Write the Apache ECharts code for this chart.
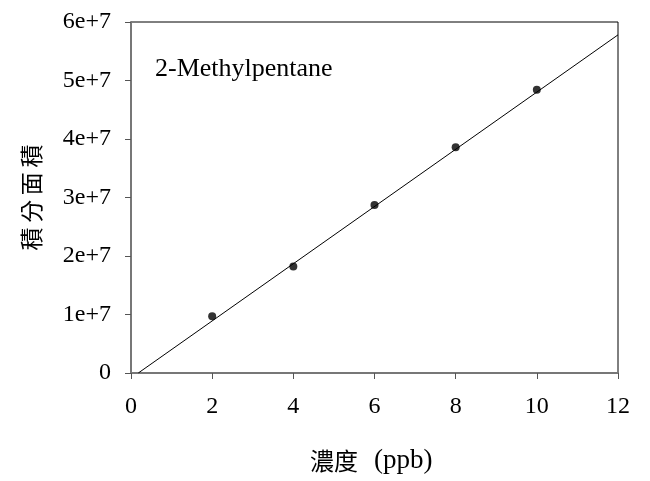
<!DOCTYPE html>
<html><head><meta charset="utf-8">
<script src="https://cdn.jsdelivr.net/npm/echarts@6/dist/echarts.min.js"></script>
<style>html,body{margin:0;padding:0;background:#fff}#c{width:650px;height:481px}</style>
</head><body><div id="c"></div>
<script>
var concentrations = [2, 4, 6, 8, 10];
var areas = [9.7e6, 1.82e7, 2.87e7, 3.86e7, 4.84e7];
var fitLine = [[0.18, 0], [12, 5.78e7]];
var xTicks = [0, 2, 4, 6, 8, 10, 12];
var yTickLabels = ['0', '1e+7', '2e+7', '3e+7', '4e+7', '5e+7', '6e+7'];
var compound = '2-Methylpentane';
var xNameCJK = '濃度';
var xNameUnit = '(ppb)';
var yName = '積\u2009分\u2009面\u2009積';

var serif = '"Liberation Serif", "Times New Roman", "Noto Sans CJK TC", serif';
var cjk = '"Noto Sans CJK TC", serif';
var chart = echarts.init(document.getElementById('c'), null, {renderer: 'canvas'});
chart.setOption({
  animation: false,
  backgroundColor: '#fff',
  grid: {left: 131, right: 32, top: 22, bottom: 108, show: true, borderColor: '#000', borderWidth: 1},
  xAxis: {
    type: 'value', min: 0, max: 12, interval: 2,
    axisLine: {onZero: false, lineStyle: {color: '#777', width: 2}},
    axisTick: {inside: false, length: 6, lineStyle: {color: '#555'}},
    axisLabel: {fontFamily: serif, fontSize: 24, color: '#000', margin: 22,
      formatter: function (v) { return xTicks.indexOf(v) >= 0 ? String(v) : ''; }},
    splitLine: {show: false}
  },
  yAxis: {
    type: 'value', min: 0, max: 6e7, interval: 1e7,
    name: yName, nameLocation: 'middle', nameGap: 88, nameRotate: 90,
    nameTextStyle: {fontFamily: cjk, fontSize: 23, color: '#000'},
    axisLine: {onZero: false, lineStyle: {color: '#777', width: 2}},
    axisTick: {inside: false, length: 6, lineStyle: {color: '#555'}},
    axisLabel: {fontFamily: serif, fontSize: 24, color: '#000', margin: 20,
      formatter: function (v) { return yTickLabels[Math.round(v / 1e7)]; }},
    splitLine: {show: false}
  },
  series: [
    {type: 'line', data: fitLine, showSymbol: false, symbol: 'none',
      lineStyle: {color: '#000', width: 1}, z: 2},
    {type: 'scatter', data: concentrations.map(function (x, i) { return [x, areas[i]]; }),
      symbol: 'circle', symbolSize: 8, itemStyle: {color: '#000'}, z: 3}
  ],
  graphic: [
    {type: 'text', left: 155, top: 56, style: {text: compound, font: '26px ' + serif, fill: '#000'}},
    {type: 'text', left: 310, top: 447, style: {
      text: '{a|' + xNameCJK + '}{b|' + xNameUnit + '}',
      rich: {
        a: {fontFamily: cjk, fontSize: 24, fill: '#000', color: '#000', padding: [0, 16, 0, 0]},
        b: {fontFamily: serif, fontSize: 27, fill: '#000', color: '#000'}
      }}}
  ]
});
</script></body></html>
